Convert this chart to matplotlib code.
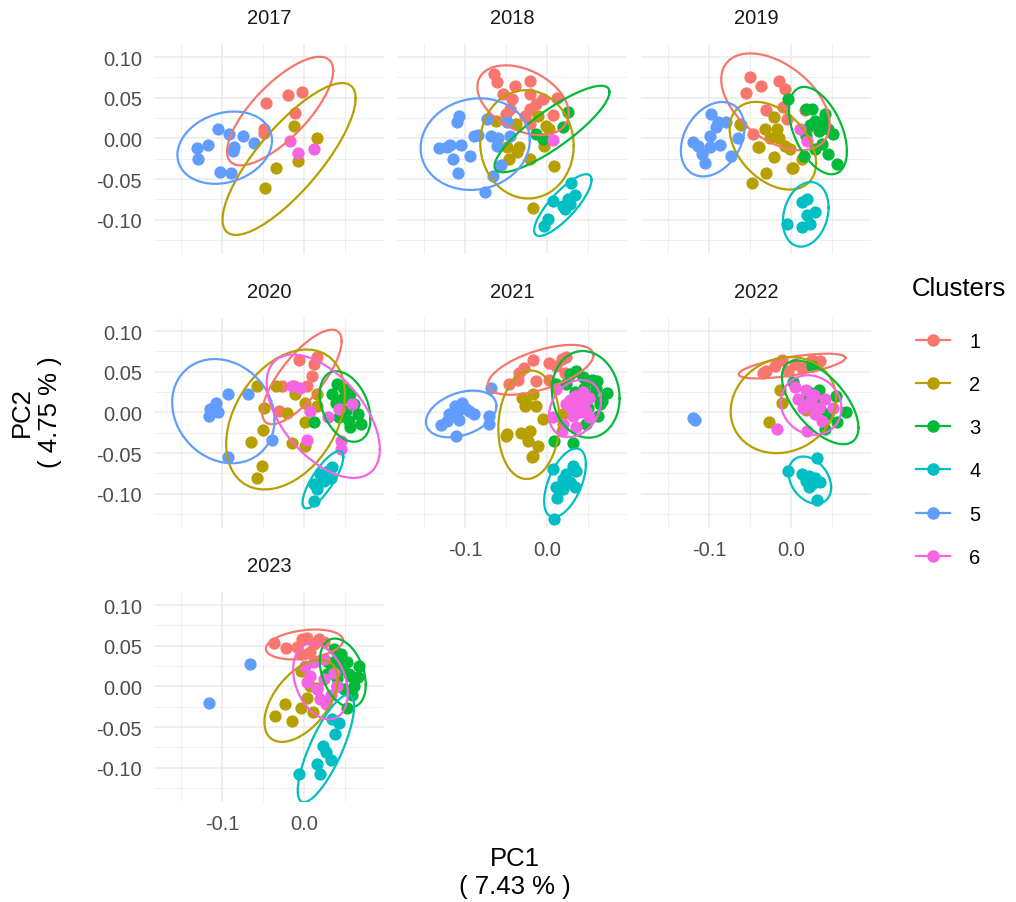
import numpy as np
import matplotlib
matplotlib.use("Agg")
import matplotlib.pyplot as plt
from matplotlib.lines import Line2D

plt.rcParams['font.family'] = ['Liberation Sans', 'DejaVu Sans']

cluster_ids = [1, 2, 3, 4, 5, 6]
cluster_colors = ['#F8766D', '#B79F00', '#00BA38', '#00BFC4', '#619CFF', '#F564E3']
years = [2017, 2018, 2019, 2020, 2021, 2022, 2023]

x_major = [-0.1, 0.0]
x_major_labels = ['-0.1', '0.0']
x_minor = [-0.15, -0.05, 0.05]
y_major = [-0.10, -0.05, 0.00, 0.05, 0.10]
y_major_labels = ['-0.10', '-0.05', '0.00', '0.05', '0.10']
y_minor = [-0.125, -0.075, -0.025, 0.025, 0.075]

x_title = "PC1\n( 7.43 % )"
y_title = "PC2\n( 4.75 % )"
legend_title = "Clusters"

# cluster -> (PC1, PC2)
pts_2017 = {
    1: ([-0.046, -0.019, -0.002, -0.011, -0.048, -0.049],
        [0.044, 0.053, 0.057, 0.031, 0.012, 0.007]),
    2: ([-0.012, 0.016, -0.007, -0.034, -0.047],
        [0.015, 0.001, -0.028, -0.036, -0.061]),
    5: ([-0.105, -0.091, -0.074, -0.061, -0.085, -0.087, -0.117, -0.130, -0.129, -0.102, -0.089],
        [0.011, 0.006, 0.003, -0.006, -0.010, -0.016, -0.008, -0.012, -0.025, -0.041, -0.042]),
    6: ([-0.017, -0.007, 0.013],
        [-0.003, -0.018, -0.013]),
}

pts_2018 = {
    1: ([-0.064, -0.061, -0.039, -0.021, -0.053, -0.045, -0.042, -0.021, -0.013, -0.005,
         -0.027, -0.021, 0.007, -0.021, 0.012, -0.050],
        [0.079, 0.069, 0.065, 0.070, 0.055, 0.036, 0.048, 0.055, 0.042, 0.048,
         0.028, 0.018, 0.029, 0.036, 0.050, 0.030]),
    2: ([-0.062, -0.038, -0.048, -0.034, -0.046, -0.021, -0.001, -0.003, 0.009, -0.017, -0.011, 0.003, -0.036],
        [0.022, 0.018, -0.010, -0.011, -0.025, -0.025, 0.015, -0.009, -0.034, -0.086, 0.028, 0.011, -0.017]),
    3: ([0.026, 0.020, -0.005, -0.013],
        [0.032, 0.014, -0.001, 0.005]),
    4: ([0.030, 0.007, 0.020, 0.026, 0.034, 0.022, 0.001, -0.003, 0.028],
        [-0.055, -0.077, -0.083, -0.075, -0.070, -0.087, -0.099, -0.107, -0.081]),
    5: ([-0.107, -0.110, -0.132, -0.122, -0.118, -0.105, -0.114, -0.094, -0.108, -0.089,
         -0.084, -0.073, -0.068, -0.060, -0.048, -0.045, -0.061, -0.056, -0.066, -0.075],
        [0.028, 0.020, -0.012, -0.011, -0.008, -0.008, -0.025, -0.022, -0.042, 0.003,
         0.004, 0.024, 0.003, 0.001, 0.020, 0.003, -0.009, -0.033, -0.046, -0.066]),
    6: ([0.007], [-0.002]),
}

pts_2019 = {
    1: ([-0.050, -0.036, -0.015, -0.007, -0.055, -0.030, -0.009, -0.005, 0.017, 0.020, -0.046],
        [0.075, 0.064, 0.070, 0.061, 0.056, 0.035, 0.038, 0.024, 0.035, 0.011, 0.005]),
    2: ([-0.062, -0.032, -0.021, -0.017, -0.015, -0.025, -0.040, -0.021, -0.007, -0.001,
         0.003, 0.014, -0.030, -0.039, 0.001, -0.047, -0.061],
        [0.018, 0.011, 0.026, 0.011, 0.001, 0.001, -0.011, -0.023, -0.009, -0.013,
         -0.036, -0.025, -0.042, -0.011, -0.036, -0.055, 0.016]),
    3: ([-0.004, 0.026, 0.042, 0.024, 0.034, 0.046, 0.052, 0.016, 0.038, 0.046, 0.057, 0.030, 0.018, 0.018,
         0.030, 0.040],
        [0.048, 0.036, 0.030, 0.016, 0.009, 0.011, 0.005, -0.021, -0.007, -0.019, -0.032, -0.013, 0.003, 0.036,
         0.022, 0.018]),
    4: ([0.014, 0.020, 0.030, 0.020, 0.024, 0.014, -0.005],
        [-0.078, -0.074, -0.090, -0.094, -0.105, -0.109, -0.105]),
    5: ([-0.098, -0.089, -0.079, -0.099, -0.120, -0.113, -0.099, -0.087, -0.109, -0.105, -0.073, -0.065, -0.091],
        [0.030, 0.020, 0.020, 0.003, -0.005, -0.009, -0.010, -0.008, -0.019, -0.030, -0.022, 0.000, 0.014]),
    6: ([0.011, 0.020], [0.011, -0.003]),
}

pts_2020 = {
    1: ([-0.006, 0.016, 0.012, -0.027, 0.004, -0.030, -0.012, 0.010],
        [0.064, 0.068, 0.060, 0.033, 0.033, 0.002, 0.033, 0.045]),
    2: ([-0.057, -0.034, -0.011, 0.002, 0.016, -0.048, -0.020, 0.002, -0.050, -0.064,
         -0.014, 0.002, -0.051, -0.057, 0.016],
        [0.033, 0.033, 0.023, 0.012, 0.023, 0.006, -0.001, -0.012, -0.022, -0.036,
         -0.037, -0.041, -0.066, -0.081, 0.008]),
    3: ([0.041, 0.049, 0.035, 0.057, 0.061, 0.066, 0.055, 0.057, 0.043, 0.039, 0.051, 0.012, 0.070, 0.047],
        [0.035, 0.029, 0.023, 0.023, 0.010, -0.002, -0.010, -0.018, -0.006, 0.012, 0.002, -0.012, -0.014, 0.016]),
    4: ([0.029, 0.035, 0.020, 0.012, 0.025, 0.016, 0.012, 0.033],
        [-0.072, -0.067, -0.076, -0.088, -0.084, -0.094, -0.109, -0.080]),
    5: ([-0.092, -0.107, -0.115, -0.105, -0.116, -0.068, -0.039, -0.092],
        [0.023, 0.012, 0.004, 0.000, -0.004, 0.023, -0.034, -0.055]),
    6: ([-0.014, 0.008, 0.029, 0.043, 0.059, 0.004, 0.045, 0.045, -0.005],
        [0.033, 0.002, -0.006, 0.004, 0.010, -0.034, -0.035, -0.045, 0.030]),
}

pts_2021 = {
    1: ([-0.046, -0.034, -0.028, -0.017, -0.013, 0.003, 0.018, 0.024, 0.011, 0.003, 0.022, -0.035],
        [0.035, 0.049, 0.055, 0.064, 0.039, 0.061, 0.066, 0.068, 0.057, 0.040, 0.048, 0.040]),
    2: ([-0.030, -0.017, -0.027, -0.013, -0.005, -0.048, -0.032, -0.020, -0.023, -0.011,
         -0.017, 0.020, -0.026, -0.050, -0.018],
        [0.018, 0.023, 0.008, 0.008, -0.008, -0.027, -0.025, -0.023, -0.035, -0.041,
         -0.053, -0.002, 0.012, -0.029, -0.055]),
    3: ([0.036, 0.044, 0.061, 0.068, 0.063, 0.048, 0.009, 0.032, 0.011, 0.028, 0.073, 0.024,
         0.045, 0.055, 0.040, 0.060, 0.050, 0.035, 0.065, 0.055],
        [0.051, 0.043, 0.039, 0.014, -0.004, -0.014, -0.035, -0.037, 0.035, 0.047, 0.024, 0.035,
         0.030, 0.020, 0.015, 0.030, 0.005, 0.025, 0.010, 0.040]),
    4: ([0.007, 0.032, 0.036, 0.020, 0.028, 0.011, 0.020, 0.034, 0.013, 0.009, 0.024],
        [-0.070, -0.066, -0.072, -0.082, -0.086, -0.092, -0.094, -0.092, -0.105, -0.131, -0.076]),
    5: ([-0.104, -0.109, -0.120, -0.129, -0.107, -0.095, -0.089, -0.111, -0.068, -0.071, -0.071,
         -0.115, -0.100, -0.112, -0.122],
        [0.012, 0.002, -0.002, -0.015, -0.009, 0.002, -0.002, -0.029, 0.030, -0.004, -0.014,
         -0.005, 0.005, 0.008, -0.010]),
    6: ([0.011, 0.044, 0.052, 0.040, 0.048, 0.032, 0.020, 0.007, 0.018, 0.024, 0.052, 0.036,
         0.035, 0.045, 0.030, 0.040, 0.028],
        [0.029, 0.025, 0.018, 0.010, 0.002, -0.004, -0.014, -0.006, -0.023, 0.010, -0.006, -0.018,
         0.020, 0.012, 0.005, 0.000, 0.015]),
}

pts_2022 = {
    1: ([-0.030, -0.011, 0.005, 0.014, 0.026, 0.036, -0.019, -0.003, -0.034, 0.022],
        [0.051, 0.065, 0.059, 0.055, 0.065, 0.063, 0.057, 0.051, 0.049, 0.057]),
    2: ([-0.013, -0.011, -0.027, 0.018],
        [0.027, 0.012, -0.012, 0.003]),
    3: ([0.026, 0.003, 0.022, 0.034, 0.055, 0.067, 0.057, 0.042, 0.030, 0.036, 0.014, 0.046],
        [0.057, 0.037, 0.025, 0.027, 0.020, 0.000, -0.012, -0.020, 0.014, 0.004, 0.014, -0.002]),
    4: ([0.032, -0.003, 0.014, 0.022, 0.030, 0.018, 0.026, 0.036, 0.032, 0.022],
        [-0.056, -0.072, -0.076, -0.078, -0.080, -0.084, -0.088, -0.086, -0.107, -0.092]),
    5: ([-0.120, -0.117], [-0.007, -0.009]),
    6: ([-0.017, 0.020, 0.009, 0.030, 0.042, 0.052, 0.005, 0.018, 0.022, 0.038,
         0.025, 0.035, 0.015, 0.028],
        [-0.020, -0.023, 0.016, -0.002, 0.016, 0.006, 0.031, 0.027, 0.010, -0.010,
         0.015, 0.005, 0.005, 0.022]),
}

pts_2023 = {
    1: ([-0.037, -0.022, -0.008, -0.002, 0.004, 0.012, 0.018, 0.025, 0.008, -0.004],
        [0.053, 0.047, 0.048, 0.058, 0.060, 0.052, 0.058, 0.054, 0.042, 0.040]),
    2: ([-0.004, -0.023, -0.035, -0.014, -0.004, 0.011, 0.004, 0.016, 0.008],
        [0.019, -0.022, -0.036, -0.042, -0.026, -0.031, -0.014, -0.002, 0.001]),
    3: ([0.037, 0.041, 0.053, 0.057, 0.061, 0.059, 0.053, 0.047, 0.049, 0.045,
         0.035, 0.040, 0.030, 0.045, 0.055, 0.040, 0.066, 0.068, 0.028],
        [0.046, 0.034, 0.030, 0.013, 0.001, -0.011, -0.026, 0.021, -0.003, 0.040,
         0.020, 0.010, 0.030, 0.025, 0.015, 0.000, 0.012, 0.025, 0.015]),
    4: ([0.035, 0.043, 0.038, 0.023, 0.027, 0.033, 0.016, 0.020, -0.006],
        [-0.040, -0.045, -0.059, -0.073, -0.081, -0.091, -0.095, -0.108, -0.108]),
    5: ([-0.066, -0.116], [0.027, -0.020]),
    6: ([0.012, 0.025, 0.008, 0.025, 0.037, 0.016, 0.033, 0.020, 0.041, 0.004, 0.027, 0.002],
        [0.030, 0.034, 0.013, 0.009, 0.017, -0.003, -0.011, -0.016, 0.001, 0.005, -0.022, 0.025]),
}

points_by_year = [pts_2017, pts_2018, pts_2019, pts_2020, pts_2021, pts_2022, pts_2023]


def cov_trob(pts, nu=5, maxit=25, tol=0.01):
    # same iteration as MASS::cov.trob
    n, p = pts.shape
    loc = pts.mean(axis=0)
    w = np.ones(n)
    for _ in range(maxit):
        w0 = w
        X = pts - loc
        _, d, vt = np.linalg.svd(np.sqrt(w / w.sum())[:, None] * X, full_matrices=False)
        wX = X @ vt.T / d
        Q = (wX ** 2).sum(axis=1)
        w = (nu + p) / (nu + Q)
        loc = (w[:, None] * pts).sum(axis=0) / w.sum()
        if np.all(np.abs(w - w0) < tol):
            break
    sX = np.sqrt(w)[:, None] * X
    return loc, sX.T @ sX / n


def ellipse_path(pts, level=0.95, segments=51):
    center, shape = cov_trob(pts)
    chol = np.linalg.cholesky(shape).T
    dfd = len(pts) - 1
    fq = dfd / 2 * ((1 - level) ** (-2 / dfd) - 1)
    radius = np.sqrt(2 * fq)
    ang = np.linspace(0, 2 * np.pi, segments + 1)
    circ = np.column_stack([np.cos(ang), np.sin(ang)])
    return center + radius * circ @ chol


W, H = 1016, 903
fig = plt.figure(figsize=(W / 100, H / 100), dpi=100, facecolor='white')

col_left = [154, 397, 641]
row_top = [45, 319, 593]
pw, ph = 230, 210

tick_size = 14.5
title_size = 18.5

for i, (year, pts) in enumerate(zip(years, points_by_year)):
    r, c = divmod(i, 3)
    ax = fig.add_axes([col_left[c] / W, 1 - (row_top[r] + ph) / H, pw / W, ph / H])
    ax.set_xlim(-0.183, 0.098)
    ax.set_ylim(-0.142, 0.116)
    for s in ax.spines.values():
        s.set_visible(False)
    ax.set_xticks(x_major)
    ax.set_xticks(x_minor, minor=True)
    ax.set_yticks(y_major)
    ax.set_yticks(y_minor, minor=True)
    ax.grid(which='major', color='#EBEBEB', linewidth=1.1)
    ax.grid(which='minor', color='#EBEBEB', linewidth=0.55)
    ax.set_axisbelow(True)
    ax.tick_params(which='both', length=0, labelsize=tick_size, labelcolor='#4D4D4D')
    ax.tick_params(axis='y', pad=8.5)
    ax.tick_params(axis='x', pad=9)

    bottom_of_col = (i + 3) >= len(years)
    if bottom_of_col:
        ax.set_xticklabels(x_major_labels)
    else:
        ax.set_xticklabels([])
    if c == 0:
        ax.set_yticklabels(y_major_labels)
    else:
        ax.set_yticklabels([])

    for k in cluster_ids:
        if k not in pts:
            continue
        xs, ys = pts[k]
        ax.scatter(xs, ys, s=78, color=cluster_colors[k - 1], linewidths=0, zorder=3)
    for k in cluster_ids:
        if k not in pts or len(pts[k][0]) < 4:
            continue
        e = ellipse_path(np.column_stack(pts[k]))
        ax.plot(e[:, 0], e[:, 1], color=cluster_colors[k - 1], linewidth=1.6, zorder=4)

    ax.text(0.5, 1 + 27 / ph, str(year), transform=ax.transAxes, ha='center',
            va='center', fontsize=tick_size, color='#1A1A1A')

fig.text(515 / W, 1 - 873 / H, x_title, ha='center', va='center',
         fontsize=title_size, color='black', linespacing=1.25)
fig.text(36 / W, 1 - 412 / H, y_title, ha='center', va='center', rotation=90,
         fontsize=title_size, color='black', linespacing=1.25)

fig.text(912 / W, 1 - 289 / H, legend_title, ha='left', va='center',
         fontsize=title_size, color='black')
handles = [Line2D([], [], color=cluster_colors[k - 1], marker='o', markersize=8,
                  linewidth=1.6) for k in cluster_ids]
fig.legend(handles, [str(k) for k in cluster_ids],
           loc='upper left', bbox_to_anchor=(916 / W, 1 - 333 / H),
           frameon=False, fontsize=tick_size,
           handlelength=1.7, handletextpad=0.95,
           labelspacing=1.2, borderpad=0, borderaxespad=0)

fig.savefig('out.png', dpi=100, facecolor='white')
